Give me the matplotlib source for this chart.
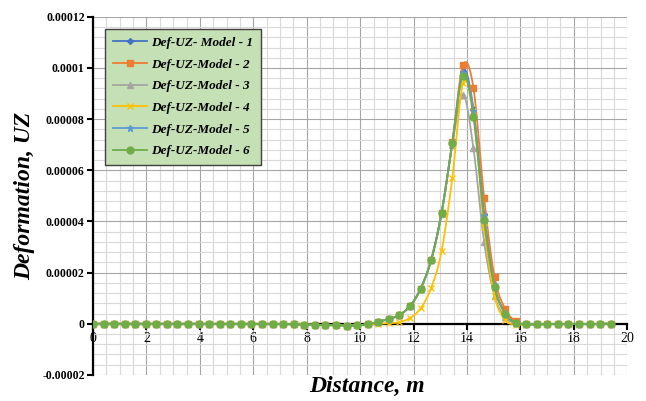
import numpy as np
import matplotlib
matplotlib.use("Agg")
from matplotlib import pyplot as plt
from matplotlib.ticker import MultipleLocator

# distance along the section (m)
distance = [0.00, 0.40, 0.79, 1.19, 1.58, 1.98, 2.37, 2.77, 3.16, 3.56,
            3.96, 4.35, 4.75, 5.14, 5.54, 5.93, 6.33, 6.73, 7.12, 7.52,
            7.91, 8.31, 8.70, 9.10, 9.49, 9.89, 10.29, 10.68, 11.08, 11.47,
            11.87, 12.26, 12.66, 13.05, 13.45, 13.85, 14.24, 14.64, 15.03, 15.43,
            15.82, 16.22, 16.62, 17.01, 17.41, 17.80, 18.20, 18.59, 18.99, 19.38]

# vertical deformation UZ, in micro units (x 1e-6)
flat = [0.0] * 18 + [-0.1, -0.2, -0.3, -0.4, -0.5, -0.6, -0.7, -0.6, -0.2]
tail = [-0.2, -0.2, -0.1, -0.1, -0.1, -0.1, -0.1, 0.0, 0.0]

uz_model_1 = flat + [0.8, 1.9, 3.4, 7.0, 13.6, 25.0, 43.5, 70.6,
                     99.0, 84.0, 43.0, 15.0, 4.2, 0.5] + tail
uz_model_2 = flat + [0.8, 1.9, 3.4, 7.0, 13.6, 25.0, 43.5, 71.0,
                     101.0, 92.3, 49.3, 18.2, 5.8, 1.0] + tail
uz_model_3 = flat + [0.8, 1.9, 3.4, 7.0, 13.6, 25.0, 43.0, 70.0,
                     89.6, 68.7, 32.0, 11.0, 2.5, 0.2] + tail
uz_model_4 = flat + [0.0, 0.2, 0.6, 2.3, 6.0, 14.0, 28.5, 57.0,
                     94.0, 83.0, 38.0, 11.0, 1.5, -0.3] + tail
uz_model_5 = flat + [0.8, 1.9, 3.4, 7.0, 13.6, 25.0, 43.5, 70.6,
                     98.0, 83.0, 42.0, 14.8, 4.0, 0.4] + tail
uz_model_6 = flat + [0.8, 1.9, 3.4, 7.0, 13.6, 25.0, 43.5, 70.6,
                     97.0, 81.0, 40.7, 14.4, 3.9, 0.4] + tail

labels = ["Def-UZ- Model - 1", "Def-UZ-Model - 2", "Def-UZ-Model - 3",
          "Def-UZ-Model - 4", "Def-UZ-Model - 5", "Def-UZ-Model - 6"]
series = [uz_model_1, uz_model_2, uz_model_3, uz_model_4, uz_model_5, uz_model_6]
colors = ["#4472C4", "#ED7D31", "#A5A5A5", "#FFC000", "#5B9BD5", "#70AD47"]
markers = ["D", "s", "^", "x", "*", "o"]
msizes = [3, 5, 5, 5, 5, 5]

y_ticks = [-0.00002, 0, 0.00002, 0.00004, 0.00006, 0.00008, 0.0001, 0.00012]
y_tick_labels = ["-0.00002", "0", "0.00002", "0.00004", "0.00006",
                 "0.00008", "0.0001", "0.00012"]
x_ticks = [0, 2, 4, 6, 8, 10, 12, 14, 16, 18, 20]


def smooth(x, y, n=10):
    # Catmull-Rom curve through the points, like a smoothed line
    x = np.asarray(x, float)
    y = np.asarray(y, float)
    px = np.concatenate([[2 * x[0] - x[1]], x, [2 * x[-1] - x[-2]]])
    py = np.concatenate([[2 * y[0] - y[1]], y, [2 * y[-1] - y[-2]]])
    t = np.linspace(0, 1, n, endpoint=False)[:, None]
    res = []
    for p in (px, py):
        p0, p1, p2, p3 = p[:-3], p[1:-2], p[2:-1], p[3:]
        seg = 0.5 * ((2 * p1) + (-p0 + p2) * t + (2 * p0 - 5 * p1 + 4 * p2 - p3) * t ** 2
                     + (-p0 + 3 * p1 - 3 * p2 + p3) * t ** 3)
        res.append(np.append(seg.T.ravel(), p[-2]))
    return res[0], res[1]


plt.rcParams['font.family'] = ['Liberation Serif', 'DejaVu Serif']

fig = plt.figure(figsize=(6.46, 4.01), dpi=100)
ax = fig.add_axes([0.144, 0.065, 0.827, 0.893])

for y, lab, c, m, ms in zip(series, labels, colors, markers, msizes):
    yv = np.array(y) * 1e-6
    sx, sy = smooth(distance, yv)
    ax.plot(sx, sy, color=c, lw=1.3, zorder=3)
    ax.plot(distance, yv, linestyle='none', marker=m, ms=ms, color=c,
            mec=c, mew=1.0, zorder=3)
    # proxy handle for the legend
    ax.plot([], [], color=c, lw=1.3, marker=m, ms=ms, mew=1.0, label=lab)

ax.set_xlim(0, 20)
ax.set_ylim(-0.00002, 0.00012)

ax.xaxis.set_minor_locator(MultipleLocator(0.5))
ax.yaxis.set_minor_locator(MultipleLocator(0.000004))
ax.set_xticks(x_ticks)
ax.set_xticklabels([str(v) for v in x_ticks], fontsize=8.5, fontweight='bold')
ax.set_yticks(y_ticks)
ax.set_yticklabels(y_tick_labels, fontsize=8.5, fontweight='bold')

ax.grid(which='major', color='#A6A6A6', lw=0.8, zorder=0)
ax.grid(which='minor', color='#D9D9D9', lw=0.8, zorder=0)
ax.set_axisbelow(True)

for side in ['top', 'right']:
    ax.spines[side].set_visible(False)
ax.spines['left'].set_linewidth(1.6)
ax.spines['bottom'].set_linewidth(1.6)
ax.spines['bottom'].set_position(('data', 0))
ax.spines['bottom'].set_zorder(2.5)
ax.tick_params(which='major', direction='out', length=4, width=1.5, pad=2)
ax.tick_params(which='minor', length=0)

ax.set_xlabel("Distance, m", fontsize=17, fontweight='bold', fontstyle='italic')
ax.xaxis.set_label_coords(0.513, -0.004)
ax.set_ylabel("Deformation, UZ", fontsize=17, fontweight='bold', fontstyle='italic')
ax.yaxis.set_label_coords(-0.108, 0.5)

leg = ax.legend(loc='upper left', bbox_to_anchor=(0.022, 0.967), borderaxespad=0,
                prop={'weight': 'bold', 'style': 'italic', 'size': 9.5},
                facecolor='#C5E0B4', edgecolor='#404040', framealpha=1,
                fancybox=False, handlelength=2.6, labelspacing=0.72,
                borderpad=0.6, handletextpad=0.3)
leg.get_frame().set_linewidth(1.0)

fig.savefig("out.png", dpi=100)
